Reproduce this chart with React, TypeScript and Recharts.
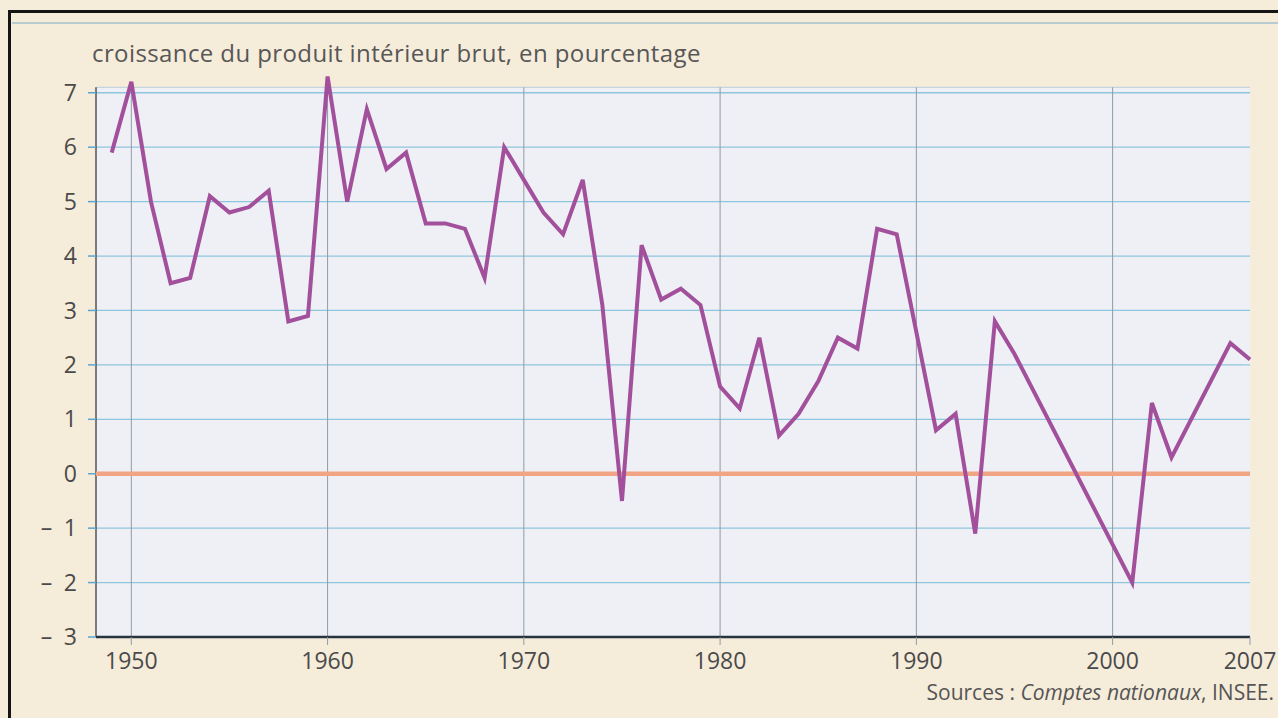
import React from 'react';
import {
  LineChart,
  Line,
  XAxis,
  YAxis,
  CartesianGrid,
  ReferenceLine,
  ReferenceArea,
} from 'recharts';

// années et croissance du PIB (%)
const years = [
  1949, 1950, 1951, 1952, 1953, 1954, 1955, 1956, 1957, 1958, 1959,
  1960, 1961, 1962, 1963, 1964, 1965, 1966, 1967, 1968, 1969,
  1970, 1971, 1972, 1973, 1974, 1975, 1976, 1977, 1978, 1979,
  1980, 1981, 1982, 1983, 1984, 1985, 1986, 1987, 1988, 1989,
  1990, 1991, 1992, 1993, 1994, 1995, 2001, 2002, 2003, 2006, 2007,
];
const growth = [
  5.9, 7.2, 5.0, 3.5, 3.6, 5.1, 4.8, 4.9, 5.2, 2.8, 2.9,
  7.3, 5.0, 6.7, 5.6, 5.9, 4.6, 4.6, 4.5, 3.6, 6.0,
  5.4, 4.8, 4.4, 5.4, 3.1, -0.5, 4.2, 3.2, 3.4, 3.1,
  1.6, 1.2, 2.5, 0.7, 1.1, 1.7, 2.5, 2.3, 4.5, 4.4,
  2.6, 0.8, 1.1, -1.1, 2.8, 2.2, -2.0, 1.3, 0.3, 2.4, 2.1,
];
const xTicks = [1950, 1960, 1970, 1980, 1990, 2000, 2007];
const decades = [1950, 1960, 1970, 1980, 1990, 2000];
const yTicks = [-3, -2, -1, 0, 1, 2, 3, 4, 5, 6, 7];

const data = years.map((year, i) => ({ year, pib: growth[i] }));

const X_MIN = 1948.2;
const X_MAX = 2007;
const Y_TOP = 7.1;

const font = '"Open Sans", "Noto Sans", sans-serif';
const cream = '#f6ecda';

export default function App() {
  return (
    <div
      style={{
        position: 'absolute',
        left: 0,
        top: 0,
        width: 1278,
        height: 718,
        background: cream,
        overflow: 'hidden',
        fontFamily: font,
      }}
    >
      <div style={{ position: 'absolute', left: 0, top: 0 }}>
        <LineChart
          width={1278}
          height={718}
          data={data}
          margin={{ top: 71, right: 28, bottom: 0, left: 0 }}
        >
          <CartesianGrid
            vertical={false}
            stroke="#8fc6df"
            strokeWidth={1.3}
            fill="#eef0f5"
            fillOpacity={1}
          />
          <ReferenceArea
            x1={X_MIN}
            x2={X_MAX}
            y1={Y_TOP}
            y2={7.7}
            fill={cream}
            fillOpacity={1}
            stroke="none"
            ifOverflow="visible"
          />
          <ReferenceLine
            segment={[
              { x: X_MIN, y: Y_TOP },
              { x: X_MAX, y: Y_TOP },
            ]}
            stroke="#bccfdc"
            strokeWidth={1}
            ifOverflow="visible"
          />
          {decades.map((d) => (
            <ReferenceLine
              key={d}
              segment={[
                { x: d, y: -3 },
                { x: d, y: Y_TOP },
              ]}
              stroke="#8f9ba6"
              strokeWidth={1}
              ifOverflow="visible"
            />
          ))}
          <ReferenceLine
            segment={[
              { x: X_MIN, y: -3 },
              { x: X_MIN, y: Y_TOP },
            ]}
            stroke="#555"
            strokeWidth={1.5}
            ifOverflow="visible"
          />
          <ReferenceLine y={0} stroke="#f2a584" strokeWidth={4.5} />
          <XAxis
            dataKey="year"
            type="number"
            domain={[X_MIN, X_MAX]}
            ticks={xTicks}
            interval={0}
            height={81}
            tickSize={8}
            tickMargin={8}
            axisLine={{ stroke: '#26343f', strokeWidth: 2.5 }}
            tickLine={{ stroke: '#8f9ba6' }}
            tick={{ fill: '#4a4a4a', fontSize: 23, fontFamily: font }}
          />
          <YAxis
            type="number"
            domain={[-3, 7.4]}
            ticks={yTicks}
            interval={0}
            width={96}
            tickSize={8}
            tickMargin={11}
            axisLine={false}
            tickLine={{ stroke: '#5aa6cf', strokeWidth: 1.5 }}
            tick={{ fill: '#4a4a4a', fontSize: 23, fontFamily: font }}
            tickFormatter={(v: number) => (v < 0 ? `–\u2002${-v}` : `${v}`)}
          />
          <Line
            type="linear"
            dataKey="pib"
            stroke="#a2509c"
            strokeWidth={4}
            dot={false}
            activeDot={false}
            isAnimationActive={false}
          />
        </LineChart>
      </div>
      <div
        style={{
          position: 'absolute',
          left: 8,
          top: 10,
          width: 1290,
          height: 730,
          borderTop: '3px solid #151515',
          borderLeft: '3px solid #151515',
        }}
      />
      <div
        style={{
          position: 'absolute',
          left: 12,
          top: 22,
          width: 1266,
          height: 2,
          background: '#8fb6cc',
          opacity: 0.6,
        }}
      />
      <div
        style={{
          position: 'absolute',
          left: 92,
          top: 36,
          fontSize: 24,
          letterSpacing: 0.4,
          color: '#575757',
          whiteSpace: 'nowrap',
        }}
      >
        croissance du produit intérieur brut, en pourcentage
      </div>
      <div
        style={{
          position: 'absolute',
          right: 4,
          top: 678,
          fontSize: 21,
          color: '#555',
          whiteSpace: 'nowrap',
        }}
      >
        Sources : <i>Comptes nationaux</i>, INSEE.
      </div>
    </div>
  );
}
